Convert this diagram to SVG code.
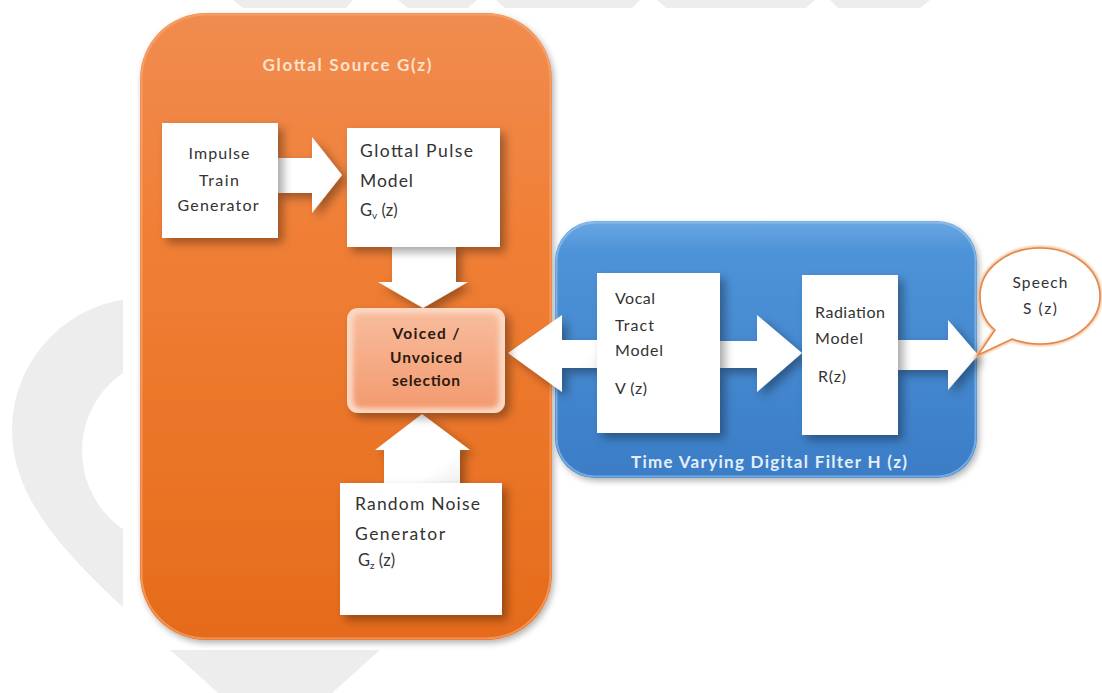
<svg xmlns="http://www.w3.org/2000/svg" width="1102" height="693" viewBox="0 0 1102 693">
  <style>
    .lbl { font-family: Lato, 'Liberation Sans', sans-serif; fill: #333333; }
    .bold { font-weight: bold; }
    .node { fill: #ffffff; }
    .arrow { fill: url(#arrowFill); }
    .wm { fill: #ededed; }
  </style>
  <defs>
    <linearGradient id="orangeFill" x1="0" y1="0" x2="0" y2="1">
      <stop offset="0" stop-color="#f08c50"/>
      <stop offset="0.35" stop-color="#f07f36"/>
      <stop offset="1" stop-color="#e56b1b"/>
    </linearGradient>
    <linearGradient id="blueFill" x1="0" y1="0" x2="0" y2="1">
      <stop offset="0" stop-color="#6aa7e2"/>
      <stop offset="0.12" stop-color="#4e93d8"/>
      <stop offset="1" stop-color="#3b7dc6"/>
    </linearGradient>
    <linearGradient id="selFill" x1="0" y1="0" x2="0" y2="1">
      <stop offset="0" stop-color="#f8bc9c"/>
      <stop offset="1" stop-color="#f39a70"/>
    </linearGradient>
    <linearGradient id="arrowFill" x1="0" y1="0" x2="1" y2="1">
      <stop offset="0" stop-color="#ffffff"/>
      <stop offset="0.7" stop-color="#ffffff"/>
      <stop offset="1" stop-color="#ececec"/>
    </linearGradient>
    <filter id="shadow" x="-30%" y="-30%" width="170%" height="170%">
      <feDropShadow dx="5" dy="5" stdDeviation="5" flood-color="#000000" flood-opacity="0.35"/>
    </filter>
    <filter id="boxShadow" x="-10%" y="-10%" width="120%" height="120%">
      <feDropShadow dx="2" dy="3" stdDeviation="3" flood-color="#000000" flood-opacity="0.3"/>
    </filter>
    <filter id="soft" x="-20%" y="-20%" width="140%" height="140%">
      <feGaussianBlur stdDeviation="2.5"/>
    </filter>
    <filter id="glow" x="-20%" y="-20%" width="140%" height="140%">
      <feGaussianBlur stdDeviation="1"/>
    </filter>
  </defs>

  <!-- page background with faint logo watermark -->
  <rect x="0" y="0" width="1102" height="693" fill="#ffffff"/>
  <g id="watermark">
    <path class="wm" fill-rule="evenodd"
      d="M273,746 C150,620 12,540 12,430 A132,132 0 0 1 144,298 L400,298 L520,520 L380,650 Z
         M82,451 A95,95 0 1 0 272,451 A95,95 0 1 0 82,451 Z"/>
    <polygon class="wm" points="233,0 353,0 346,8 243,8"/>
    <polygon class="wm" points="398,0 477,0 468,8 408,8"/>
    <polygon class="wm" points="496,0 640,0 632,8 505,8"/>
    <polygon class="wm" points="657,0 815,0 806,8 666,8"/>
    <polygon class="wm" points="830,0 930,0 920,8 838,8"/>
    <rect x="123" y="8" width="979" height="642" fill="#ffffff"/>
  </g>

  <!-- glottal source container -->
  <g id="glottal-source">
    <rect x="140" y="13" width="412" height="627" rx="66" fill="url(#orangeFill)" filter="url(#boxShadow)"/>
    <rect x="141.5" y="14.5" width="409" height="624" rx="65" fill="none" stroke="#f6a672" stroke-width="2" opacity="0.7"/>
    <text class="lbl bold" x="347" y="71" text-anchor="middle" font-size="17" style="fill:#fde2cc" textLength="169">Glottal Source G(z)</text>
  </g>

  <!-- time varying digital filter container -->
  <g id="digital-filter">
    <rect x="555" y="221" width="422" height="257" rx="40" fill="url(#blueFill)" filter="url(#boxShadow)"/>
    <rect x="556.5" y="222.5" width="419" height="254" rx="39" fill="none" stroke="#9cc8ef" stroke-width="2" opacity="0.6"/>
    <text class="lbl bold" x="769" y="468" text-anchor="middle" font-size="17" style="fill:#e3effa" textLength="276">Time Varying Digital Filter H (z)</text>
  </g>

  <!-- block arrows -->
  <g id="connectors" filter="url(#shadow)">
    <!-- impulse train -> glottal pulse -->
    <polygon class="arrow" points="276,158 312,158 312,137 342,175 312,213 312,193 276,193"/>
    <!-- glottal pulse -> selection -->
    <polygon class="arrow" points="392,245 456,245 456,282 468,282 423,308 378,282 392,282"/>
    <!-- random noise -> selection -->
    <polygon class="arrow" points="384,485 460,485 460,450 470,450 422,414 375,450 384,450"/>
    <!-- vocal tract -> selection -->
    <polygon class="arrow" points="599,340 562,340 562,315 508,353 562,392 562,368 599,368"/>
    <!-- vocal tract -> radiation -->
    <polygon class="arrow" points="718,341 757,341 757,315 802,353 757,392 757,368 718,368"/>
    <!-- radiation -> speech -->
    <polygon class="arrow" points="896,340 948,340 948,320 978,355 948,390 948,370 896,370"/>
  </g>

  <g id="impulse-train">
    <rect class="node" x="162" y="123" width="116" height="115" filter="url(#shadow)"/>
    <text class="lbl" x="219" y="159" text-anchor="middle" font-size="16" textLength="61">Impulse</text>
    <text class="lbl" x="219" y="186" text-anchor="middle" font-size="16" textLength="40">Train</text>
    <text class="lbl" x="218" y="211" text-anchor="middle" font-size="16" textLength="81">Generator</text>
  </g>

  <g id="glottal-pulse">
    <rect class="node" x="347" y="128" width="153" height="119" filter="url(#shadow)"/>
    <text class="lbl" x="360" y="157" font-size="17.5" textLength="113">Glottal Pulse</text>
    <text class="lbl" x="360" y="187" font-size="17.5" textLength="53">Model</text>
    <text class="lbl" x="360" y="216" font-size="16.5">G<tspan font-size="10" dy="3">v</tspan><tspan dy="-3"> (z)</tspan></text>
  </g>

  <g id="selection">
    <rect x="347" y="308" width="158" height="105" rx="11" fill="#fbd9c5" filter="url(#shadow)"/>
    <rect x="353" y="313" width="146" height="95" rx="8" fill="url(#selFill)" filter="url(#soft)"/>
    <text class="lbl bold" x="426" y="339" text-anchor="middle" font-size="15.5" style="fill:#2a1a10" textLength="67">Voiced  /</text>
    <text class="lbl bold" x="426" y="363" text-anchor="middle" font-size="15.5" style="fill:#2a1a10" textLength="72">Unvoiced</text>
    <text class="lbl bold" x="426" y="386" text-anchor="middle" font-size="15.5" style="fill:#2a1a10" textLength="68">selection</text>
  </g>

  <g id="random-noise">
    <rect class="node" x="340" y="483" width="162" height="132" filter="url(#shadow)"/>
    <text class="lbl" x="355" y="510" font-size="17.5" textLength="125">Random Noise</text>
    <text class="lbl" x="355" y="540" font-size="17.5" textLength="90">Generator</text>
    <text class="lbl" x="358" y="566" font-size="16.5">G<tspan font-size="10" dy="3">z</tspan><tspan dy="-3"> (z)</tspan></text>
  </g>

  <g id="vocal-tract">
    <rect class="node" x="597" y="273" width="123" height="160" filter="url(#shadow)"/>
    <text class="lbl" x="615" y="304" font-size="16" textLength="40">Vocal</text>
    <text class="lbl" x="615" y="331" font-size="16" textLength="39">Tract</text>
    <text class="lbl" x="615" y="356" font-size="16" textLength="48">Model</text>
    <text class="lbl" x="615" y="394" font-size="16" textLength="32">V (z)</text>
  </g>

  <g id="radiation">
    <rect class="node" x="802" y="275" width="96" height="160" filter="url(#shadow)"/>
    <text class="lbl" x="815" y="318" font-size="16" textLength="70">Radiation</text>
    <text class="lbl" x="815" y="344" font-size="16" textLength="48">Model</text>
    <text class="lbl" x="818" y="382" font-size="16" textLength="28">R(z)</text>
  </g>

  <g id="speech">
    <path d="M1040,248 C1073,248 1100,269 1100,296 C1100,323 1073,344 1040,344 C1030,344 1020,342 1012,339 L978,355 L995,330 C985,322 980,310 980,296 C980,269 1007,248 1040,248 Z"
      fill="none" stroke="#f2b98e" stroke-width="4" filter="url(#glow)"/>
    <path d="M1040,248 C1073,248 1100,269 1100,296 C1100,323 1073,344 1040,344 C1030,344 1020,342 1012,339 L978,355 L995,330 C985,322 980,310 980,296 C980,269 1007,248 1040,248 Z"
      fill="#ffffff" stroke="#e3884a" stroke-width="1.6"/>
    <text class="lbl" x="1040" y="288" text-anchor="middle" font-size="15.5" textLength="55">Speech</text>
    <text class="lbl" x="1040" y="314" text-anchor="middle" font-size="15.5" textLength="34">S (z)</text>
  </g>
</svg>
